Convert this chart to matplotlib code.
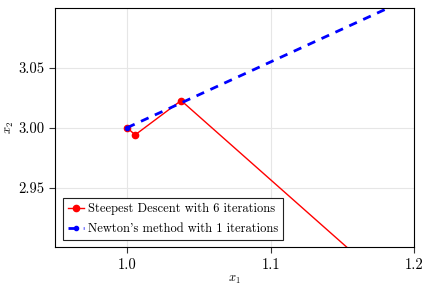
import numpy as np
import matplotlib.pyplot as plt

plt.rcParams['font.family'] = ['cmr10', 'DejaVu Serif']
plt.rcParams['mathtext.fontset'] = 'cm'
plt.rcParams['axes.formatter.use_mathtext'] = True

# iterates (later ones leave the window)
sd_x = [1.0, 1.0056, 1.0376, 1.30, 1.32, 1.60, 1.62]
sd_y = [3.0, 2.994, 3.0227, 2.744, 2.742, 2.45, 2.448]
nt_x = [1.0, 1.25]
nt_y = [3.0, 3.1375]

fig, ax = plt.subplots(figsize=(4.25, 2.86), dpi=100)
fig.subplots_adjust(left=0.13, right=0.975, bottom=0.135, top=0.972)

ax.plot(sd_x, sd_y, '-o', color='red', lw=1.0, ms=4.5,
        label='Steepest Descent with 6 iterations')
ax.plot(nt_x, nt_y, '--o', color='blue', lw=2.0, ms=3, dashes=(3, 2.5),
        label="Newton's method with 1 iterations")

ax.set_xlim(0.95, 1.2)
ax.set_ylim(2.9, 3.1)
ax.set_xticks([1.0, 1.1, 1.2])
ax.set_yticks([2.95, 3.0, 3.05])
ax.set_xticklabels(['1.0', '1.1', '1.2'])
ax.set_yticklabels(['2.95', '3.00', '3.05'])
ax.grid(True, color='#e6e6e6', lw=0.8)
ax.tick_params(direction='out', length=4, labelsize=10.5, color='#333333')
ax.set_xlabel(r'$x_1$', fontsize=9, labelpad=2)
ax.set_ylabel(r'$x_2$', fontsize=9, labelpad=2)

leg = ax.legend(loc='lower left', fontsize=9, fancybox=False,
                edgecolor='#222222', framealpha=1, handlelength=1.3,
                borderaxespad=0.6, handletextpad=0.3, labelspacing=0.6)
leg.get_frame().set_linewidth(0.8)

fig.savefig('out.png')
